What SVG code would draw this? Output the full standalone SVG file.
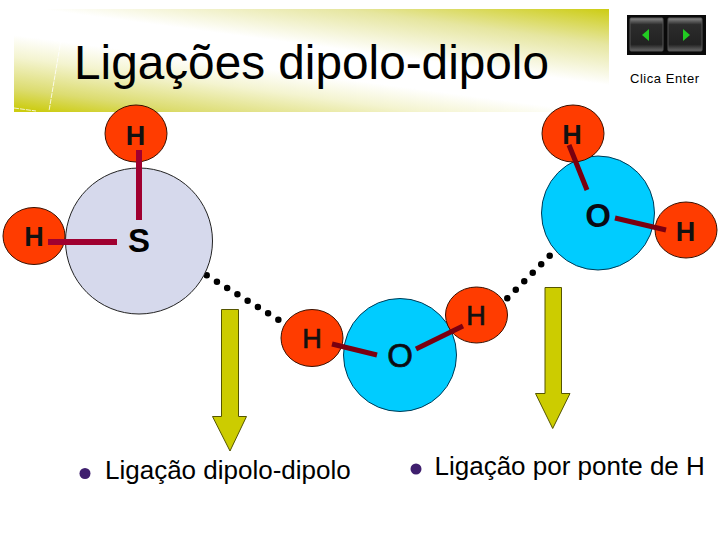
<svg xmlns="http://www.w3.org/2000/svg" width="720" height="540" viewBox="0 0 720 540">
<style>
text{font-family:"Liberation Sans",Arial,sans-serif;fill:#000}
.hy{fill:#ff3c00;stroke:#3a1000;stroke-width:1}
.ox{fill:#00ccff;stroke:#003a55;stroke-width:1}
.su{fill:#d6d9ec;stroke:#222;stroke-width:1}
.a{font-weight:bold;font-size:27px;text-anchor:middle;fill:#111}
.b{font-size:33px;font-weight:bold;text-anchor:middle;fill:#0a0a14}
.m{font-weight:normal;stroke:#111;stroke-width:0.7}
.bond{stroke:#a00030;stroke-width:6;fill:none}
.bond2{stroke:#7a0010;stroke-width:5;fill:none}
.dots{stroke:#000;stroke-width:6.5;stroke-linecap:round;fill:none}
.arrow{fill:#cccc00;stroke:#555500;stroke-width:1}
.bul{fill:#3f1f6e}
.li{font-size:26px}
.btn{fill:url(#btn);stroke:#555;stroke-width:1}
.tri{fill:#22cc22}
</style>
<defs>
<linearGradient id="ban" gradientUnits="userSpaceOnUse" x1="299" y1="150" x2="323" y2="-30">
<stop offset="0.02" stop-color="#cccc10"/><stop offset="0.13" stop-color="#dcdc70"/><stop offset="0.3" stop-color="#f4f4d0"/><stop offset="0.42" stop-color="#ffffff"/><stop offset="0.58" stop-color="#ffffff"/><stop offset="0.8" stop-color="#e6e6a0"/><stop offset="1" stop-color="#cccc10"/>
</linearGradient>
<linearGradient id="btn" x1="0" y1="0" x2="0" y2="1">
<stop offset="0" stop-color="#8a8a8a"/><stop offset="0.2" stop-color="#2c2c2c"/><stop offset="0.8" stop-color="#222"/><stop offset="1" stop-color="#666"/>
</linearGradient>
</defs>
<g id="banner">
<rect x="14" y="9" width="595" height="103" fill="url(#ban)"/>
<path d="M62 34L49 111M14 108L36 111" fill="none" stroke="#fff" stroke-width="0.8" stroke-dasharray="5 1"/>
<text x="74" y="79" font-size="48" textLength="475" lengthAdjust="spacingAndGlyphs">Ligações dipolo-dipolo</text>
</g>
<g id="nav">
<rect x="627" y="15" width="79" height="40" fill="#0a0a0a"/>
<rect x="630" y="18" width="33" height="33" rx="1" class="btn"/>
<rect x="668" y="18" width="34" height="33" rx="1" class="btn"/>
<path class="tri" d="M642 35L649 29V41Z"/>
<path class="tri" d="M690 35L683 29V41Z"/>
<text x="630" y="83" font-size="13" fill="#111" textLength="69">Clica Enter</text>
</g>
<g id="connectors">
<path class="dots" d="M206.7 275.3L279 320.1" stroke-dasharray="0 12.04"/>
<path class="dots" d="M507.3 298.3L550.4 255" stroke-dasharray="0 12.02"/>
</g>
<g id="atom-s"><ellipse class="su" cx="139" cy="241" rx="73.5" ry="73"/><text class="b" style="fill:#000" x="139" y="251.5" font-size="34">S</text></g>
<g id="atom-h1"><ellipse class="hy" cx="136" cy="133.5" rx="31" ry="28.5"/><text class="a" x="135.5" y="145">H</text></g>
<g id="atom-h2"><ellipse class="hy" cx="34" cy="236" rx="31" ry="28.5"/><text class="a" x="34" y="245.5">H</text></g>
<g id="bonds-s"><path class="bond" d="M139 150V220"/><path class="bond" d="M48 242H117"/></g>
<g id="atom-o1"><ellipse class="ox" cx="598" cy="213" rx="56.5" ry="57"/><text class="b" x="598" y="227">O</text></g>
<g id="atom-h3"><ellipse class="hy" cx="573" cy="133.5" rx="31" ry="28.5"/><text class="a" x="572" y="143.5">H</text></g>
<g id="atom-h4"><ellipse class="hy" cx="686" cy="230" rx="31" ry="28"/><text class="a" x="685.5" y="240.5">H</text></g>
<g id="bonds-o1"><path class="bond2" d="M569 145L587 190"/><path class="bond2" d="M615 218L666 230"/></g>
<g id="atom-o2"><ellipse class="ox" cx="400" cy="355" rx="56.5" ry="56.5"/><text class="b m" x="400" y="367">O</text></g>
<g id="atom-h5"><ellipse class="hy" cx="312" cy="338" rx="31" ry="28.5"/><text class="a m" x="312" y="347.5">H</text></g>
<g id="atom-h6"><ellipse class="hy" cx="476.5" cy="315" rx="31" ry="28"/><text class="a m" x="476" y="325">H</text></g>
<g id="bonds-o2"><path class="bond2" d="M332 344L377 355"/><path class="bond2" d="M416 349L463 326"/></g>
<g id="arrow-left"><path class="arrow" d="M221.5 309.5H238.5V416.5H246.5L230 451L212.5 416.5H221.5Z"/></g>
<g id="arrow-right"><path class="arrow" d="M545 287.5H561.5V393.5H570L552.7 428.5L535.5 393.5H545Z"/></g>
<g id="item-1"><circle class="bul" cx="85" cy="473.5" r="5.5"/><text class="li" x="105" y="479">Ligação dipolo-dipolo</text></g>
<g id="item-2"><circle class="bul" cx="416" cy="469" r="5.5"/><text class="li" x="434.5" y="475">Ligação por ponte de H</text></g>
</svg>
